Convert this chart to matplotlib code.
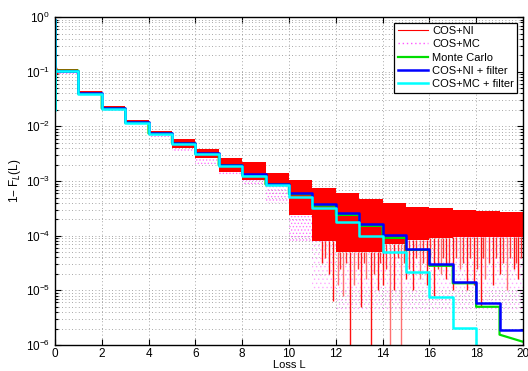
import numpy as np
import matplotlib.pyplot as plt
from matplotlib.lines import Line2D

plt.rcParams['font.family'] = ['Liberation Sans', 'DejaVu Sans']

# loss levels (interval k = [k, k+1))
L = np.arange(0, 21)

# log10(1 - F_L(L)) read per interval, k = 0..19
blue_log = [-0.98, -1.39, -1.66, -1.92, -2.12, -2.30, -2.49, -2.70, -2.88, -3.05,
            -3.22, -3.42, -3.58, -3.78, -3.99, -4.24, -4.52, -4.84, -5.23, -5.72]
cyan_log = [-0.99, -1.41, -1.68, -1.94, -2.14, -2.32, -2.51, -2.72, -2.90, -3.08,
            -3.29, -3.49, -3.75, -4.00, -4.30, -4.66, -5.12, -5.69, -7.00, -7.00]
green_log = [-0.98, -1.40, -1.67, -1.93, -2.13, -2.31, -2.50, -2.71, -2.89, -3.06,
             -3.24, -3.45, -3.62, -3.82, -4.04, -4.26, -4.55, -4.87, -5.30, -5.81]
green_end = -5.94

# COS+NI: band of fast oscillations (upper / lower envelope per interval)
red_hi = [-0.95, -1.36, -1.63, -1.88, -2.08, -2.23, -2.42, -2.58, -2.65, -2.85,
          -2.98, -3.13, -3.22, -3.33, -3.40, -3.47, -3.49, -3.53, -3.55, -3.56]
red_lo = [-1.02, -1.42, -1.70, -1.96, -2.14, -2.39, -2.58, -2.83, -2.98, -3.07,
          -3.62, -4.10, -4.30, -4.30, -4.15, -4.08, -4.05, -4.03, -4.02, -4.02]
# Gibbs overshoot near L = 0
red0_x = [0.02, 0.05, 0.10, 0.20, 0.40, 1.00]
red0_hi = [-0.85, -0.90, -0.94, -0.96, -0.97, -0.97]
red0_lo = [-1.15, -1.08, -1.03, -1.01, -1.00, -1.00]
# deep downward spikes of COS+NI (position, log10 of tip)
spike_L = [11.4, 11.7, 11.9, 12.1, 12.3, 12.6, 12.8, 13.1, 13.3, 13.5, 13.8, 14.0,
           14.3, 14.5, 14.8, 15.0, 15.3, 15.6, 15.9, 16.2, 16.5, 16.7, 17.0, 17.3,
           17.6, 17.9, 18.2, 18.4, 18.7, 19.0, 19.3, 19.6, 19.8]
spike_tip = [-4.5, -4.7, -5.2, -4.9, -5.1, -6.5, -4.9, -5.3, -4.8, -6.5, -5.0, -4.9,
             -6.5, -5.0, -6.5, -4.8, -5.0, -4.8, -4.9, -5.1, -4.7, -4.8, -5.0, -4.6,
             -5.0, -4.9, -5.3, -4.8, -4.9, -4.7, -5.0, -4.6, -4.8]
spike_pale = [12.1, 12.3, 12.8, 13.3, 14.3, 14.8, 15.6, 16.5, 17.3, 18.4, 19.3]
# shorter spikes between the deep ones
short_L = [11.55, 12.2, 12.45, 12.95, 13.2, 13.65, 13.9, 14.15, 14.65, 14.9, 15.15,
           15.45, 15.75, 16.05, 16.35, 16.6, 16.85, 17.15, 17.45, 17.75, 18.05,
           18.3, 18.55, 18.85, 19.15, 19.45, 19.7, 19.9]
short_tip = [-4.4, -4.6, -4.5, -4.6, -4.5, -4.7, -4.5, -4.6, -4.4, -4.5, -4.6,
             -4.4, -4.5, -4.4, -4.6, -4.4, -4.5, -4.4, -4.5, -4.4, -4.6, -4.4,
             -4.5, -4.4, -4.5, -4.4, -4.5, -4.4]

# COS+MC: dotted band below the red one
mag_lo = [-1.05, -1.45, -1.72, -1.98, -2.20, -2.45, -2.70, -2.90, -3.07, -3.40,
          -4.10, -5.00, -5.40, -5.40, -5.40, -5.40, -5.40, -5.40, -5.40, -5.40]


def steps(vals):
    return np.power(10.0, list(vals) + [vals[-1]])


fig = plt.figure(figsize=(5.28, 3.71), dpi=100)
ax = fig.add_axes([0.104, 0.070, 0.8864, 0.884])
ax.set_yscale('log')

grid_kw = dict(color='#8a8a8a', linestyle=(0, (1, 3)), linewidth=0.6)
ax.grid(True, which='major', axis='both', **grid_kw)
ax.grid(True, which='minor', axis='y', **grid_kw)
ax.set_axisbelow(True)

plt.rcParams['hatch.linewidth'] = 0.6
near = L <= 11
far = L >= 11
ax.fill_between(L[near], steps(mag_lo)[near], steps(red_lo)[near], step='post',
                facecolor='none', edgecolor='#ff44ff', hatch='.....',
                linewidth=0, alpha=0.7)
ax.fill_between(L[far], steps(mag_lo)[far], steps(red_lo)[far], step='post',
                facecolor='none', edgecolor='#ff44ff', hatch='....',
                linewidth=0, alpha=0.35)
ax.fill_between(L, steps(red_lo), steps(red_hi), step='post',
                color='#ff0000', linewidth=0)
ax.fill_between(red0_x, np.power(10.0, red0_lo), np.power(10.0, red0_hi),
                color='#ff0000', linewidth=0)
for xs, tip in zip(short_L, short_tip):
    ax.vlines(xs, 10 ** tip, 10 ** red_lo[int(xs)], color='#ff3030', linewidth=1.0)
for xs, tip in zip(spike_L, spike_tip):
    top = 10 ** red_lo[int(xs)]
    c = '#ff7070' if xs in spike_pale else '#ff1010'
    ax.vlines(xs, 10 ** tip, top, color=c, linewidth=1.0)

green_x = np.repeat(L, 2)[1:-1]
green_y = np.power(10.0, np.repeat(green_log, 2))
green_y[-1] = 10 ** green_end
ax.plot(green_x, green_y, color='#00dd00', linewidth=1.6)

ax.plot(np.r_[0, L], np.r_[0.9, steps(blue_log)], drawstyle='steps-post',
        color='#0000ff', linewidth=1.8)
ax.plot(np.r_[0, 0, L], np.r_[0.9, 0.02, steps(cyan_log)], drawstyle='steps-post',
        color='#00ffff', linewidth=1.8)

ax.set_xlim(0, 20)
ax.set_ylim(1e-6, 1)
ax.set_xticks(np.arange(0, 21, 2))
ax.set_yticks([1e-6, 1e-5, 1e-4, 1e-3, 1e-2, 1e-1, 1e0])
ax.tick_params(which='both', direction='in', top=True, right=True,
               labelsize=8.5, width=0.8)
ax.tick_params(which='major', length=4)
ax.tick_params(which='minor', length=2)
ax.tick_params(axis='x', pad=2)
for s in ax.spines.values():
    s.set_linewidth(1.0)

ax.set_xlabel('Loss L', fontsize=8, labelpad=0)
ax.set_ylabel('1\u2212 F$_L$(L)', fontsize=8.5, labelpad=2)

handles = [Line2D([], [], color='#ff0000', linewidth=0.8),
           Line2D([], [], color='#ff55ff', linewidth=1.0, linestyle=(0, (1, 2))),
           Line2D([], [], color='#00dd00', linewidth=1.6),
           Line2D([], [], color='#0000ff', linewidth=1.8),
           Line2D([], [], color='#00ffff', linewidth=1.8)]
labels = ['COS+NI', 'COS+MC', 'Monte Carlo', 'COS+NI + filter', 'COS+MC + filter']
leg = ax.legend(handles, labels, loc='upper right', fontsize=8, fancybox=False,
                framealpha=1, edgecolor='black', handlelength=2.7,
                borderaxespad=0.5, labelspacing=0.3, borderpad=0.3,
                handletextpad=0.4)
leg.get_frame().set_linewidth(0.9)

fig.savefig('out.png', dpi=100)
